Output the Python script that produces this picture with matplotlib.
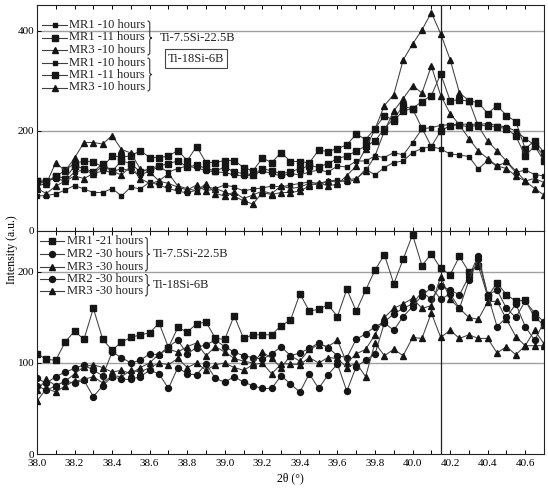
import numpy as np
import matplotlib.pyplot as plt
from matplotlib.lines import Line2D
from matplotlib.path import Path
from matplotlib.patches import PathPatch

plt.rcParams['font.family'] = ['Liberation Serif', 'DejaVu Serif']

W, H = 548, 493

# 2theta sampling, 0.05 deg steps from 38.0 to 40.7
two_theta = np.round(38.0 + 0.05 * np.arange(55), 2)

# ---- top panel (10 / 11 hours) ----
t_mr1_10_a = [70, 71, 74, 82, 91, 84, 77, 77, 85, 70,
              88, 84, 98, 92, 85, 80, 76, 82, 88, 85,
              92, 88, 80, 84, 86, 90, 88, 92, 95, 98,
              95, 100, 102, 98, 103, 124, 112, 127, 137, 140,
              157, 165, 169, 164, 154, 152, 149, 124, 141, 130,
              138, 117, 122, 113, 110]
t_mr1_11_a = [100, 100, 108, 122, 135, 140, 138, 128, 150, 148,
              150, 161, 147, 147, 150, 161, 141, 169, 137, 137,
              141, 141, 127, 120, 146, 137, 157, 139, 139, 136,
              162, 159, 165, 172, 194, 183, 205, 231, 221, 240,
              245, 259, 271, 314, 261, 262, 260, 257, 235, 251,
              231, 219, 164, 181, 157]
t_mr3_10_a = [90, 95, 137, 120, 146, 177, 177, 174, 191, 163,
              156, 124, 118, 100, 95, 88, 82, 92, 80, 85,
              78, 70, 60, 54, 77, 73, 77, 77, 80, 90,
              97, 90, 94, 111, 130, 165, 204, 251, 273, 342,
              374, 402, 437, 394, 343, 276, 261, 210, 180, 160,
              140, 120, 100, 85, 72]
t_mr1_10_b = [95, 100, 105, 100, 118, 122, 115, 120, 118, 125,
              120, 112, 120, 128, 118, 125, 130, 126, 121, 118,
              117, 112, 110, 112, 120, 115, 110, 115, 112, 118,
              122, 118, 130, 128, 140, 140, 150, 147, 157, 152,
              177, 204, 207, 211, 213, 213, 214, 213, 215, 211,
              208, 200, 185, 172, 150]
t_mr1_11_b = [100, 98, 110, 105, 130, 125, 118, 135, 120, 140,
              135, 118, 125, 130, 135, 140, 128, 132, 125, 120,
              128, 118, 115, 112, 125, 120, 115, 118, 125, 130,
              128, 135, 145, 150, 160, 170, 180, 205, 225, 250,
              244, 206, 169, 200, 211, 212, 208, 212, 210, 208,
              205, 190, 150, 170, 140]
t_mr3_10_b = [85, 75, 90, 100, 110, 105, 115, 130, 120, 112,
              130, 105, 95, 100, 115, 90, 85, 80, 95, 75,
              70, 78, 65, 72, 80, 75, 90, 85, 88, 95,
              92, 100, 98, 102, 105, 120, 150, 200, 240, 265,
              291, 276, 330, 271, 235, 212, 185, 160, 145, 130,
              125, 110, 100, 105, 97]

# ---- bottom panel (21 / 30 hours) ----
b_mr1_21_a = [110, 104, 103, 123, 135, 126, 160, 126, 114, 123,
              128, 131, 133, 144, 117, 139, 134, 143, 145, 127,
              126, 152, 127, 131, 131, 131, 141, 147, 176, 157,
              159, 164, 151, 181, 157, 180, 202, 219, 187, 214,
              241, 207, 220, 204, 197, 217, 200, 207, 173, 188,
              175, 168, 169, 150, 142]
b_mr2_30_a = [83, 78, 85, 90, 94, 98, 92, 86, 112, 106,
              100, 103, 110, 109, 118, 125, 110, 117, 120, 125,
              118, 112, 108, 106, 104, 110, 118, 108, 111, 116,
              122, 117, 108, 106, 126, 132, 140, 145, 154, 160,
              165, 178, 170, 185, 180, 175, 195, 218, 175, 180,
              160, 150, 168, 155, 145]
b_mr3_30_a = [70, 82, 75, 80, 88, 96, 98, 95, 90, 92,
              88, 95, 100, 110, 115, 112, 118, 122, 108, 118,
              112, 105, 102, 100, 112, 105, 95, 108, 102, 115,
              120, 118, 125, 100, 110, 115, 131, 150, 160, 165,
              171, 160, 163, 195, 170, 160, 150, 148, 167, 168,
              148, 129, 119, 136, 121]
b_mr2_30_b = [75, 70, 75, 80, 78, 81, 63, 75, 85, 82,
              82, 85, 92, 88, 72, 95, 88, 87, 99, 83,
              79, 85, 79, 75, 72, 72, 86, 77, 68, 88,
              72, 87, 99, 69, 96, 103, 110, 144, 136, 151,
              162, 174, 183, 170, 176, 160, 191, 214, 175, 140,
              150, 165, 140, 125, 145]
b_mr3_30_b = [58, 72, 68, 75, 80, 82, 85, 78, 86, 85,
              92, 90, 95, 100, 98, 105, 95, 100, 92, 98,
              100, 95, 92, 98, 100, 88, 99, 99, 98, 106,
              100, 106, 105, 95, 100, 85, 122, 108, 115, 108,
              128, 127, 155, 128, 136, 127, 131, 127, 127, 111,
              118, 109, 119, 119, 119]

top_labels = ['MR1 -10 hours', 'MR1 -11 hours', 'MR3 -10 hours',
              'MR1 -10 hours', 'MR1 -11 hours', 'MR3 -10 hours']
bot_labels = ['MR1 -21 hours', 'MR2 -30 hours', 'MR3 -30 hours',
              'MR2 -30 hours', 'MR3 -30 hours']
alloy_a = 'Ti-7.5Si-22.5B'
alloy_b = 'Ti-18Si-6B'

LC = '#404040'
MC = '#161616'
small_sq = ('s', 2.5)
big_sq = ('s', 4.2)
tri = ('^', 5.0)
circ = ('o', 4.3)

top_series = [(t_mr1_10_a, small_sq), (t_mr1_11_a, big_sq), (t_mr3_10_a, tri),
              (t_mr1_10_b, small_sq), (t_mr1_11_b, big_sq), (t_mr3_10_b, tri)]
bot_series = [(b_mr1_21_a, big_sq), (b_mr2_30_a, circ), (b_mr3_30_a, tri),
              (b_mr2_30_b, circ), (b_mr3_30_b, tri)]

fig = plt.figure(figsize=(W / 100, H / 100), dpi=100)
ax1 = fig.add_axes([37 / W, 1 - 231 / H, (544 - 37) / W, (231 - 5) / H])
ax2 = fig.add_axes([37 / W, 1 - 454 / H, (544 - 37) / W, (454 - 231) / H])

for ax, series in ((ax1, top_series), (ax2, bot_series)):
    for y, (m, ms) in series:
        ax.plot(two_theta, y, color=LC, lw=0.75, marker=m, ms=ms,
                mfc=MC, mec=MC, zorder=3)
    ax.axvline(40.15, color='#222222', lw=0.9, zorder=2)
    ax.set_xlim(38.0, 40.7)
    ax.set_xticks(np.arange(38.0, 40.61, 0.2))
    ax.set_xticks(np.arange(38.1, 40.7, 0.2), minor=True)
    ax.tick_params(axis='x', which='both', direction='in', top=True,
                   length=3, width=0.7, labelsize=8)
    ax.tick_params(axis='y', direction='in', length=3, width=0.7,
                   labelsize=8, pad=2)
    for s in ax.spines.values():
        s.set_linewidth(0.8)
        s.set_color('#222222')

ax1.set_ylim(0, 452)
ax1.set_yticks([0, 200, 400])
for v in (200, 400):
    ax1.axhline(v, color='#a0a0a0', lw=1.0, zorder=1)
ax1.tick_params(axis='x', labelbottom=False)

ax2.set_ylim(0, 245)
ax2.set_yticks([0, 100, 200])
for v in (100, 200):
    ax2.axhline(v, color='#a0a0a0', lw=1.0, zorder=1)
ax2.set_xticklabels(['%.1f' % t for t in np.arange(38.0, 40.61, 0.2)])

fig.text(12 / W, 1 - 250 / H, 'Intensity (a.u.)', rotation=90,
         ha='center', va='center', fontsize=8.5)
fig.text(290 / W, 1 - 478 / H, '2\u03b8 (\u00b0)', ha='center', va='center',
         fontsize=8.5)


# ---- hand drawn legends with braces ----
def handle(x0, x1, y, marker, ms, label, tx):
    fy = 1 - y / H
    fig.add_artist(Line2D([x0 / W, (x0 + x1) / 2 / W, x1 / W], [fy] * 3,
                          transform=fig.transFigure, color=LC, lw=0.8,
                          marker=marker, ms=ms, markevery=[1], mfc=MC, mec=MC))
    fig.text(tx / W, fy, label, ha='left', va='center', fontsize=9,
             color='#222222')


def brace(x, y0, y1, w=4.5):
    ym = (y0 + y1) / 2
    h = w / 2
    pts = [(x, y0), (x + h, y0), (x + h, y0 + h), (x + h, ym - h),
           (x + h, ym), (x + w, ym), (x + h, ym), (x + h, ym + h),
           (x + h, y1 - h), (x + h, y1), (x, y1)]
    codes = [Path.MOVETO, Path.CURVE3, Path.CURVE3, Path.LINETO,
             Path.CURVE3, Path.CURVE3, Path.CURVE3, Path.CURVE3,
             Path.LINETO, Path.CURVE3, Path.CURVE3]
    verts = [(px / W, 1 - py / H) for px, py in pts]
    fig.add_artist(PathPatch(Path(verts, codes), transform=fig.transFigure,
                             fill=False, lw=0.8, edgecolor='#333333'))


top_rows = [25, 37.5, 50, 62.5, 75, 87.5]
for yy, lab, (y, (m, ms)) in zip(top_rows, top_labels, top_series):
    handle(42, 67, yy, m, ms, lab, 69)
brace(147.5, 21, 55)
brace(147.5, 58, 91)
fig.text(160 / W, 1 - 38 / H, alloy_a, ha='left', va='center', fontsize=9,
         color='#222222')
fig.text(196 / W, 1 - 58.5 / H, alloy_b, ha='center', va='center', fontsize=9,
         color='#222222',
         bbox=dict(boxstyle='square,pad=0.25', fc='white', ec='#444444', lw=0.8))

bot_rows = [241, 254, 266.5, 279, 291]
for yy, lab, (y, (m, ms)) in zip(bot_rows, bot_labels, bot_series):
    handle(40, 64, yy, m, ms, lab, 67)
brace(145, 237.5, 271)
brace(145, 274.5, 296)
fig.text(153 / W, 1 - 254 / H, alloy_a, ha='left', va='center', fontsize=9,
         color='#222222')
fig.text(153 / W, 1 - 285 / H, alloy_b, ha='left', va='center', fontsize=9,
         color='#222222')

fig.savefig('out.png', dpi=100)
